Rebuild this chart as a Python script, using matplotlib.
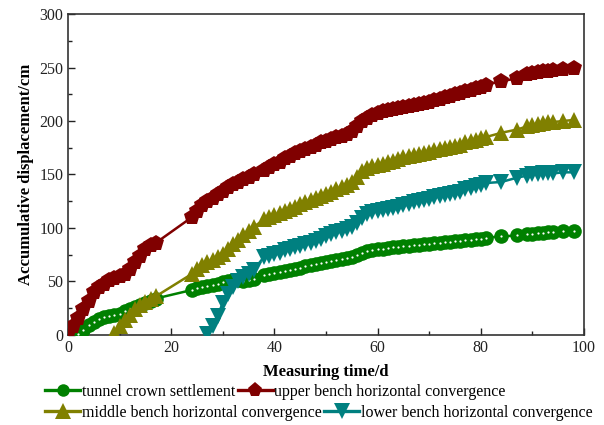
import matplotlib
matplotlib.use("Agg")
import matplotlib.pyplot as plt
from matplotlib.lines import Line2D
from matplotlib.ticker import MultipleLocator

plt.rcParams['font.family'] = ['Liberation Serif', 'DejaVu Serif']

# Measurement days (shared schedule)
days = [0, 1, 2, 3, 4, 5, 6, 7, 8, 9, 10, 11, 12, 13, 14, 15, 16, 17,
        24, 25, 26, 27, 28, 29, 30, 31, 32, 33, 34, 35, 36,
        38, 39, 40, 41, 42, 43, 44, 45, 46, 47, 48, 49, 50, 51, 52, 53, 54, 55,
        56, 57, 58, 59, 60, 61, 62, 63, 64, 65, 66, 67, 68, 69, 70, 71, 72, 73,
        74, 75, 76, 77, 78, 79, 80, 81,
        84, 87, 89, 90, 91, 92, 93, 94, 96, 98]

# Upper bench horizontal convergence, from day 0
upper = [2, 8, 16, 24, 32, 40, 45, 48, 51, 53, 55, 57, 62, 68, 74, 80, 84, 86,
         110, 116, 121, 125, 128, 132, 135, 138, 141, 143, 146, 148, 150,
         154, 157, 160, 162, 165, 167, 170, 172, 174, 176, 178, 180, 181, 183, 185, 186, 188, 191,
         195, 200, 203, 206, 207, 209, 210, 211, 212, 213, 214, 215, 216, 217, 218, 220, 221, 222,
         223, 225, 226, 228, 229, 231, 232, 234,
         237, 240, 244, 245, 246, 247, 247, 248, 249, 250]

# Tunnel crown settlement, from day 2
crown = [1, 5, 9, 12, 15, 17, 18, 19, 20, 22, 24, 26, 28, 30, 32, 34,
         42, 44, 45, 46, 47, 48, 49, 50, 51, 51, 50, 51, 52,
         56, 57, 58, 59, 60, 61, 62, 63, 64, 65, 66, 67, 68, 69, 70, 71, 72, 73,
         75, 77, 78, 79, 80, 80, 81, 82, 82, 83, 83, 84, 84, 85, 85, 86, 86, 87,
         87, 88, 88, 89, 89, 90, 90, 91,
         92, 93, 94, 94, 95, 95, 96, 96, 97, 97]

# Middle bench horizontal convergence, from day 9
middle = [2, 8, 14, 19, 24, 28, 31, 34, 36,
          57, 62, 65, 68, 70, 73, 76, 80, 85, 89, 93, 97, 101,
          108, 110, 112, 114, 116, 118, 120, 122, 124, 126, 128, 130, 132, 134, 136, 138, 140, 143,
          148, 153, 156, 158, 159, 160, 162, 163, 164, 166, 167, 168, 169, 170, 171, 173, 174, 175,
          176, 177, 178, 180, 181, 182, 184, 185,
          189, 192, 195, 196, 197, 198, 199, 199, 200, 201]

# Lower bench horizontal convergence, from day 27
lower = [1, 8, 18, 30, 38, 45, 50, 54, 57, 61,
         73, 74, 76, 77, 79, 80, 82, 83, 85, 86, 88, 90, 92, 94, 96, 97, 99, 101,
         105, 109, 113, 115, 116, 117, 118, 119, 120, 121, 122, 124, 125, 126, 127, 129, 130, 131,
         132, 133, 134, 136, 137, 139, 140, 142,
         143, 147, 149, 150, 150, 151, 151, 151, 152, 152]

labels = ["tunnel crown settlement", "upper bench horizontal convergence",
          "middle bench horizontal convergence", "lower bench horizontal convergence"]

c_crown, c_upper, c_middle, c_lower = "#008000", "#800000", "#808000", "#008080"

fig = plt.figure(figsize=(6.04, 4.25), dpi=100)
ax = fig.add_axes([0.1126, 0.212, 0.8544, 0.755])

lw = 1.8
style = dict(lw=lw, mew=0)
ax.plot(days[days.index(2):], crown, color=c_crown, marker='o', ms=10.5, zorder=3, **style)
ax.plot(days[days.index(2):], crown, ls='none', marker='o', ms=1.6, mfc='white',
        mec='white', mew=0, zorder=3.5)
ax.plot(days, upper, color=c_upper, marker='p', ms=12, zorder=4, **style)
ax.plot(days[days.index(9):], middle, color=c_middle, marker='^', ms=12, zorder=4, **style)
ax.plot(days[days.index(27):], lower, color=c_lower, marker='v', ms=12, zorder=4, **style)

ax.set_xlim(0, 100)
ax.set_ylim(0, 300)
ax.xaxis.set_major_locator(MultipleLocator(20))
ax.xaxis.set_minor_locator(MultipleLocator(10))
ax.yaxis.set_major_locator(MultipleLocator(50))
ax.yaxis.set_minor_locator(MultipleLocator(25))
ax.tick_params(which='both', direction='in', top=False, right=False,
               labelsize=11.5, width=1.0, colors='#222222')
ax.tick_params(which='major', length=5)
ax.tick_params(which='minor', length=3)
for s in ax.spines.values():
    s.set_linewidth(1.2)
    s.set_color('#333333')

ax.set_xlabel("Measuring time/d", fontsize=12, fontweight='bold', labelpad=6)
ax.set_ylabel("Accumulative displacement/cm", fontsize=12, fontweight='bold', labelpad=4)

def handle(color, marker, size):
    return Line2D([], [], color=color, marker=marker, ms=size, lw=2.4, mew=0)

row1 = [handle(c_crown, 'o', 9), handle(c_upper, 'p', 11)]
row2 = [handle(c_middle, '^', 11), handle(c_lower, 'v', 11)]

common = dict(ncol=2, frameon=False, fontsize=11.5, handlelength=2.2,
              handletextpad=0.1, columnspacing=0.15, borderaxespad=0,
              borderpad=0, loc='center left', bbox_transform=fig.transFigure)
leg1 = fig.legend(row1, labels[:2], bbox_to_anchor=(0.075, 1 - 392 / 425), **common)
leg2 = fig.legend(row2, labels[2:], bbox_to_anchor=(0.075, 1 - 413 / 425), **common)

fig.savefig("out.png", dpi=100)
